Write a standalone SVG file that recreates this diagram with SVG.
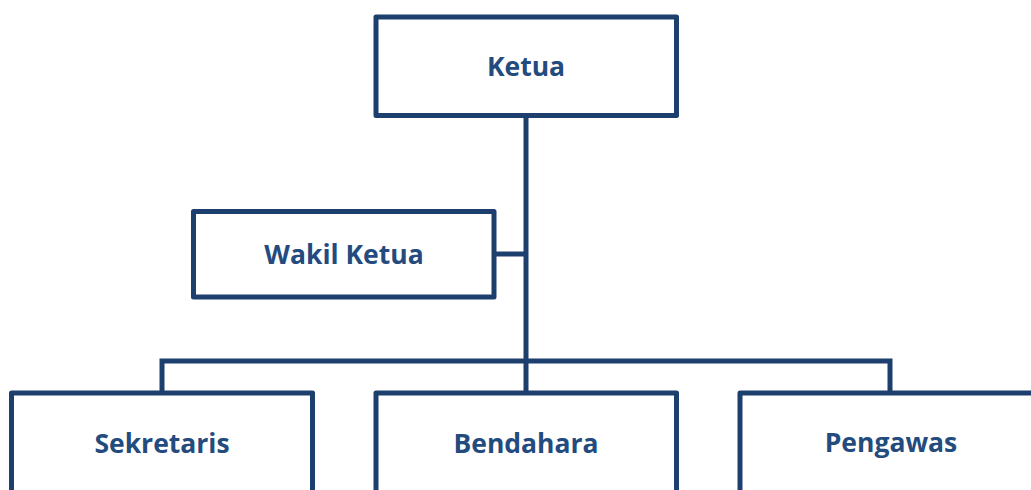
<svg xmlns="http://www.w3.org/2000/svg" width="1031" height="490" viewBox="0 0 1031 490">
<style>
.box{fill:#ffffff;stroke:#1c3f6e;stroke-width:5;stroke-linejoin:round}
.ln{fill:none;stroke:#1c3f6e;stroke-width:5}
.t{font-family:"Open Sans","Liberation Sans",sans-serif;font-weight:700;font-size:26.5px;fill:#234b7e;text-anchor:middle}
</style>
<rect width="1031" height="490" fill="#ffffff"/>
<g id="connectors">
<path class="ln" d="M526,115 V361 M494,254 H526 M162,393 V361 H890 V393 M526,361 V393"/>
</g>
<g id="ketua">
<rect class="box" x="376" y="17" width="300.5" height="98.5"/>
<text class="t" x="526" y="76">Ketua</text>
</g>
<g id="wakil-ketua">
<rect class="box" x="193.5" y="211.5" width="300.5" height="85.5"/>
<text class="t" x="344" y="264">Wakil Ketua</text>
</g>
<g id="sekretaris">
<rect class="box" x="11.5" y="393" width="301" height="120"/>
<text class="t" x="162" y="453">Sekretaris</text>
</g>
<g id="bendahara">
<rect class="box" x="376" y="393" width="300.5" height="120"/>
<text class="t" x="526" y="453">Bendahara</text>
</g>
<g id="pengawas">
<rect class="box" x="740" y="393" width="320" height="120"/>
<text class="t" x="891" y="452">Pengawas</text>
</g>
</svg>
